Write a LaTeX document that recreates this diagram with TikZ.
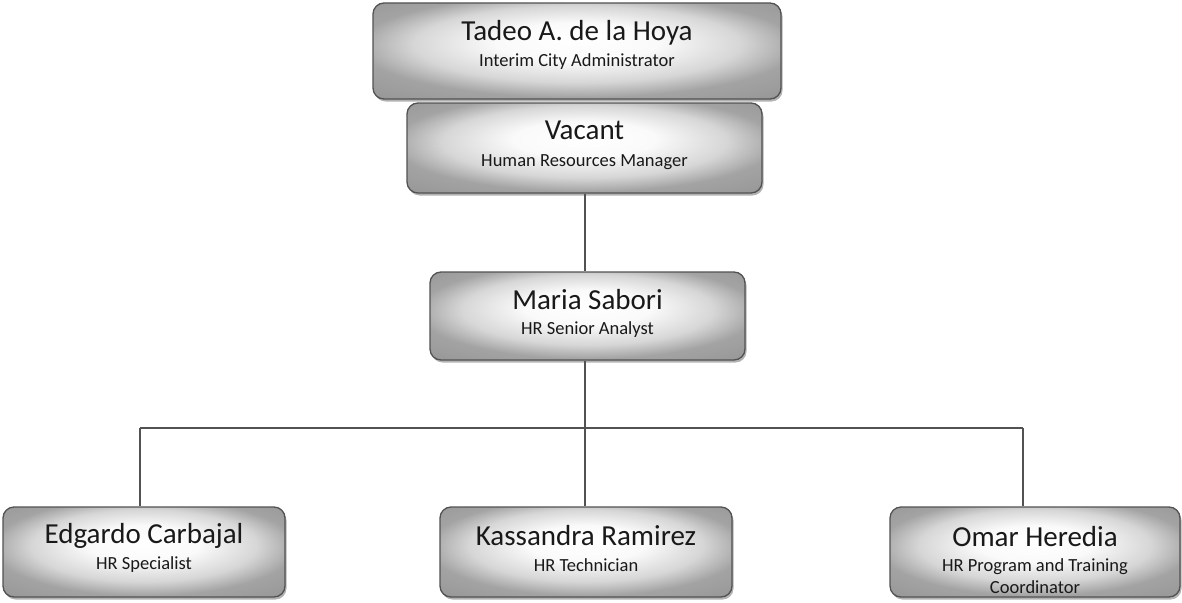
\documentclass[tikz,border=0pt]{standalone}
\usepackage{fontspec}
\setmainfont{Carlito}
\usetikzlibrary{shadows}
\pgfdeclareradialshading{boxshade}{\pgfpoint{0bp}{6bp}}{%
  color(0bp)=(white); color(10bp)=(black!2); color(20bp)=(black!16);
  color(27bp)=(black!36); color(50bp)=(black!48)}
\begin{document}
\begin{tikzpicture}[x=1pt,y=-1pt,
  box/.style={draw=black!68, line width=1.3pt, rounded corners=11pt,
    shading=boxshade,
    drop shadow={shadow xshift=1.5pt, shadow yshift=-2.5pt, opacity=0.3, fill=black}},
  nm/.style={font=\fontsize{29}{30}\selectfont, text=black!90, inner sep=0pt},
  ttl/.style={font=\fontsize{18.5}{22}\selectfont, text=black!90, inner sep=0pt, align=center},
  linkshadow/.style={draw=black!22, line width=2.6pt},
  link/.style={draw=black!68, line width=1.8pt}]
\useasboundingbox (0,0) rectangle (1182,602);

\coordinate (busL) at (140,428);
\coordinate (busR) at (1023,428);
\coordinate (busM) at (585,428);

\node[box, minimum width=408pt, minimum height=96pt] (tadeo) at (577,51) {};
\node[box, minimum width=355pt, minimum height=90pt] (vacant) at (584.5,148) {};
\node[box, minimum width=315pt, minimum height=88pt] (maria) at (587.5,316) {};
\node[box, minimum width=282pt, minimum height=90pt] (edgardo) at (144,552) {};
\node[box, minimum width=292pt, minimum height=90pt] (kass) at (586,552) {};
\node[box, minimum width=290pt, minimum height=90pt] (omar) at (1035,552) {};

% connector shadows
\begin{scope}[shift={(2.2,2.2)}]
\draw[linkshadow] (vacant.south -| busM) -- (maria.north -| busM);
\draw[linkshadow] (maria.south -| busM) -- (busM);
\draw[linkshadow] (busL) -- (busR);
\draw[linkshadow] (busL) -- (edgardo.north -| busL);
\draw[linkshadow] (busM) -- (kass.north -| busM);
\draw[linkshadow] (busR) -- (omar.north -| busR);
\end{scope}
% connectors
\draw[link] (vacant.south -| busM) -- (maria.north -| busM);
\draw[link] (maria.south -| busM) -- (busM);
\draw[link] (busL) -- (busR);
\draw[link] (busL) -- (edgardo.north -| busL);
\draw[link] (busM) -- (kass.north -| busM);
\draw[link] (busR) -- (omar.north -| busR);

\node[nm] (tadeoN) at ([yshift=18pt]tadeo.center) {Tadeo A. de la Hoya};
\node[ttl] (tadeoT) at ([yshift=-11pt]tadeo.center) {Interim City Administrator};
\node[nm] (vacantN) at ([yshift=18pt]vacant.center) {Vacant};
\node[ttl] (vacantT) at ([yshift=-14pt]vacant.center) {Human Resources Manager};
\node[nm] (mariaN) at ([yshift=16pt]maria.center) {Maria Sabori};
\node[ttl] (mariaT) at ([yshift=-14pt]maria.center) {HR Senior Analyst};
\node[nm] (edgardoN) at ([yshift=16pt]edgardo.center) {Edgardo Carbajal};
\node[ttl] (edgardoT) at ([yshift=-13pt]edgardo.center) {HR Specialist};
\node[nm] (kassN) at ([yshift=16pt]kass.center) {Kassandra Ramirez};
\node[ttl] (kassT) at ([yshift=-13pt]kass.center) {HR Technician};
\node[nm] (omarN) at ([yshift=15pt]omar.center) {Omar Heredia};
\node[ttl] (omarT) at ([yshift=-24pt]omar.center) {HR Program and Training\\Coordinator};
\end{tikzpicture}
\end{document}
